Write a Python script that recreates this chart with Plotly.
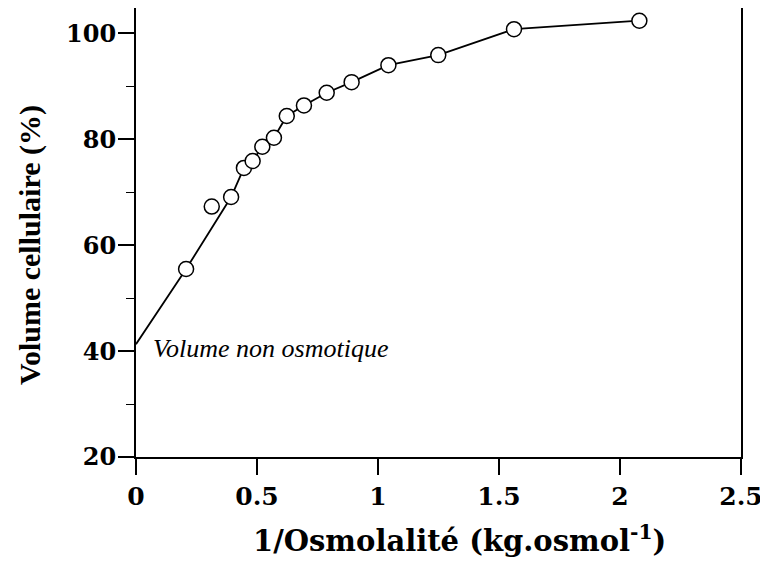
import plotly.graph_objects as go

# Data
inv_osmolality = [0.207, 0.313, 0.393, 0.446, 0.482, 0.522, 0.570, 0.623, 0.694,
                  0.788, 0.891, 1.043, 1.249, 1.562, 2.080]
cell_volume = [55.5, 67.3, 69.1, 74.6, 75.9, 78.6, 80.3, 84.4, 86.4,
               88.8, 90.8, 94.0, 95.9, 100.8, 102.4]

# Fitted curve drawn through the points (starts at the non-osmotic volume)
curve_x = [0.0, 0.207, 0.393, 0.446, 0.482, 0.522, 0.570, 0.623, 0.694,
           0.788, 0.891, 1.043, 1.249, 1.562, 2.080]
curve_y = [41.3, 55.5, 69.1, 74.6, 75.9, 78.6, 80.3, 84.4, 86.4,
           88.8, 90.8, 94.0, 95.9, 100.8, 102.4]

x_tickvals = [0, 0.5, 1, 1.5, 2, 2.5]
x_ticktext = ["0", "0.5", "1", "1.5", "2", "2.5"]
y_tickvals = [20, 40, 60, 80, 100]
y_ticktext = ["20", "40", "60", "80", "100"]

SERIF = "Liberation Serif"
WIDE = "DejaVu Serif"

# page has an 8px body margin, so figure coords = page coords - 8
OFF = 8
W, H = 768, 568
L, R, T, B = 136 - OFF, W - (741 - OFF), 0, H - (457 - OFF)
PW, PH = W - L - R, H - T - B

fig = go.Figure()
fig.add_trace(go.Scatter(x=curve_x, y=curve_y, mode="lines",
                         line=dict(color="black", width=1.8),
                         hoverinfo="skip", showlegend=False))
fig.add_trace(go.Scatter(x=inv_osmolality, y=cell_volume, mode="markers",
                         marker=dict(symbol="circle", size=15, color="white",
                                     line=dict(color="black", width=1.5)),
                         showlegend=False))

fig.add_annotation(x=0.062, y=40.5, xref="x", yref="y", text="<i>Volume non osmotique</i>",
                   showarrow=False, xanchor="left", yanchor="middle",
                   font=dict(family=SERIF, size=26, color="black"))

fig.add_annotation(xref="paper", yref="paper",
                   x=(459 - OFF - L) / PW, y=-(539 - OFF - (H - B)) / PH,
                   text="<b>1/Osmolalité (kg.osmol<sup>-1</sup>)</b>", showarrow=False,
                   xanchor="center", yanchor="middle",
                   font=dict(family=WIDE, size=29, color="black"))
fig.add_annotation(xref="paper", yref="paper",
                   x=-(L - (30 - OFF)) / PW, y=1 - (245 - OFF - T) / PH,
                   text="<b>Volume cellulaire (%)</b>", showarrow=False, textangle=-90,
                   xanchor="center", yanchor="middle",
                   font=dict(family=SERIF, size=30, color="black"))

fig.update_xaxes(range=[0, 2.5], tickvals=x_tickvals, ticktext=x_ticktext,
                 showgrid=False, zeroline=False, showline=True, linecolor="black",
                 linewidth=2, mirror=True, ticks="outside", ticklen=16, tickwidth=1.5,
                 tickcolor="black", ticklabelstandoff=0,
                 tickfont=dict(family=WIDE, size=25, color="black", weight="bold"))
fig.update_yaxes(range=[20, 104.8], tickvals=y_tickvals, ticktext=y_ticktext,
                 showgrid=False, zeroline=False, showline=True, linecolor="black",
                 linewidth=2, mirror=True, ticks="outside", ticklen=16, tickwidth=1.5,
                 tickcolor="black", ticklabelstandoff=-3,
                 minor=dict(tickvals=[30, 50, 70, 90], ticks="outside", ticklen=8,
                            tickwidth=1.2, tickcolor="black"),
                 tickfont=dict(family=WIDE, size=24, color="black", weight="bold"))

fig.update_layout(width=W, height=H, margin=dict(l=L, r=R, t=T, b=B, autoexpand=False),
                  plot_bgcolor="white", paper_bgcolor="white",
                  showlegend=False)

fig.write_html("out.html")
